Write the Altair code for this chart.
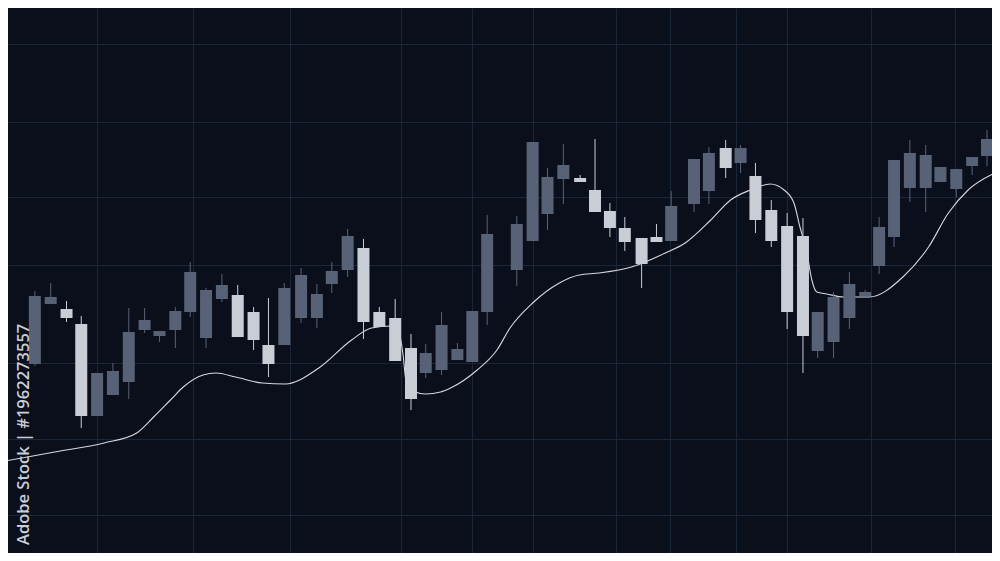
import altair as alt
import pandas as pd

# ---- candle data (session index, prices) ----
t = [1.88, 2.88, 3.88, 4.81, 5.81, 6.81, 7.81, 8.81, 9.75, 10.75, 11.69, 12.69, 13.69, 14.69,
     15.69, 16.63, 17.63, 18.69, 19.69, 20.63, 21.63, 22.63, 23.63, 24.63, 25.63, 26.56, 27.56,
     28.56, 29.5, 30.44, 32.31, 33.31, 34.25, 35.25, 36.31, 37.25, 38.19, 39.13, 40.19, 41.13,
     42.06, 43.5, 44.44, 45.5, 46.44, 47.38, 48.38, 49.38, 50.38, 51.31, 52.31, 53.31, 54.31,
     55.19, 56.13, 57.13, 58.13, 59.06, 60.06, 61.06, 62.0]
open_ = [236, 296, 291, 276, 184, 205, 218, 270, 264, 270, 288, 262, 301, 305, 288, 255, 255,
         282, 282, 316, 330, 352, 288, 282, 252, 227, 230, 240, 238, 288, 330, 359, 386, 421,
         422, 410, 389, 372, 362, 363, 359, 396, 409, 452, 437, 424, 390, 374, 364, 249, 258,
         282, 304, 334, 363, 412, 412, 418, 411, 434, 444]
high = [309, 317, 299, 284, 227, 237, 292, 292, 269, 293, 338, 312, 326, 315, 293, 302, 317,
        332, 316, 338, 371, 361, 293, 301, 266, 256, 288, 257, 289, 385, 384, 458, 432, 456,
        425, 461, 397, 383, 362, 376, 409, 441, 453, 460, 455, 437, 400, 387, 382, 288, 308,
        328, 310, 383, 440, 460, 455, 433, 431, 443, 470]
low = [234, 296, 278, 172, 184, 205, 201, 267, 258, 252, 283, 252, 298, 263, 250, 223, 255,
       277, 272, 307, 323, 261, 273, 239, 190, 222, 225, 240, 238, 275, 314, 359, 370, 396,
       418, 388, 363, 349, 312, 358, 359, 388, 396, 422, 427, 367, 353, 271, 227, 242, 242,
       271, 304, 326, 353, 398, 388, 418, 403, 425, 434]
close = [304, 303, 282, 184, 227, 229, 268, 280, 269, 289, 328, 310, 315, 263, 260, 236, 312,
         325, 306, 329, 364, 278, 273, 239, 201, 247, 275, 251, 289, 366, 376, 458, 423, 435,
         418, 388, 372, 358, 336, 358, 394, 441, 447, 432, 452, 380, 359, 288, 264, 288, 303,
         316, 308, 373, 440, 447, 445, 433, 431, 443, 461]

# ---- moving average line ----
ma_t = [0.0, 3.13, 6.25, 8.31, 9.38, 10.44, 11.25, 12.5, 13.31, 14.56, 16.25, 17.69, 19.81,
        21.88, 23.13, 24.38, 24.88, 25.13, 25.31, 25.75, 26.56, 27.5, 28.13, 29.81, 31.06,
        31.88, 33.31, 35.0, 36.25, 37.5, 39.56, 41.69, 42.94, 44.56, 45.81, 47.06, 48.31,
        49.19, 49.81, 50.19, 50.63, 50.94, 51.25, 51.88, 52.94, 54.56, 56.69, 58.31, 59.56,
        60.81, 62.5]
ma_v = [139, 148, 157, 167, 183, 200, 213, 225, 227, 223, 217, 216, 232, 260, 272, 274, 267,
        245, 220, 209, 206, 208, 212, 230, 250, 272, 297, 317, 325, 327, 333, 347, 357, 380,
        400, 410, 416, 410, 397, 373, 347, 320, 308, 306, 303, 303, 323, 353, 387, 410, 427]

# ---- grid positions ----
grid_t = [5.81, 11.88, 18.0, 25.0, 29.5, 33.31, 38.56, 42.0, 46.13, 49.38, 54.69, 60.0]
grid_p = [556, 478, 403, 335, 237, 161, 85]

label = ["Adobe Stock  |  #1962273557"]

BG = "#0b0f1c"
UP = "#586276"
DOWN = "#c8cdd6"
GRID = "#1b2738"

df = pd.DataFrame({"t": t, "open": open_, "high": high, "low": low, "close": close})
df["dir"] = ["up" if c >= o else "down" for o, c in zip(open_, close)]
ma_df = pd.DataFrame({"t": ma_t, "v": ma_v})

x_scale = alt.Scale(domain=[0.5, 62.0], nice=False, zero=False)
y_scale = alt.Scale(domain=[47, 592], nice=False, zero=False)
x_axis = alt.Axis(values=grid_t, grid=True, labels=False, ticks=False, domain=False,
                  title=None, gridColor=GRID, gridWidth=1)
y_axis = alt.Axis(values=grid_p, grid=True, labels=False, ticks=False, domain=False,
                  title=None, gridColor=GRID, gridWidth=1)


def X(field):
    return alt.X(field, scale=x_scale, axis=x_axis)


def Y(field):
    return alt.Y(field, scale=y_scale, axis=y_axis)


color = alt.Color("dir:N", scale=alt.Scale(domain=["up", "down"], range=[UP, DOWN]), legend=None)

ma = alt.Chart(ma_df).mark_line(interpolate="monotone", color="#d6d8dd", strokeWidth=1.1,
                                clip=True).encode(x=X("t:Q"), y=Y("v:Q"))

wicks = alt.Chart(df).mark_rule(strokeWidth=1, clip=True).encode(
    x=X("t:Q"), y=Y("low:Q"), y2="high:Q", color=color)

bodies = alt.Chart(df).mark_bar(size=12, clip=True).encode(
    x=X("t:Q"), y=Y("open:Q"), y2="close:Q", color=color)

text = alt.Chart(pd.DataFrame({"label": label})).mark_text(
    angle=270, align="left", baseline="middle", font="Open Sans", fontSize=16.5,
    fontWeight=600, color="#c9cdd6").encode(x=alt.value(16), y=alt.value(537), text="label:N")

chart = alt.layer(ma, wicks, bodies, text).properties(
    width=984, height=545, background=BG, padding=0,
    autosize=alt.AutoSizeParams(type="none"),
).configure_view(stroke=None, fill=BG).configure_axis(minExtent=0, maxExtent=0)

chart.save("out.html", embed_options={"renderer": "svg", "actions": False})
